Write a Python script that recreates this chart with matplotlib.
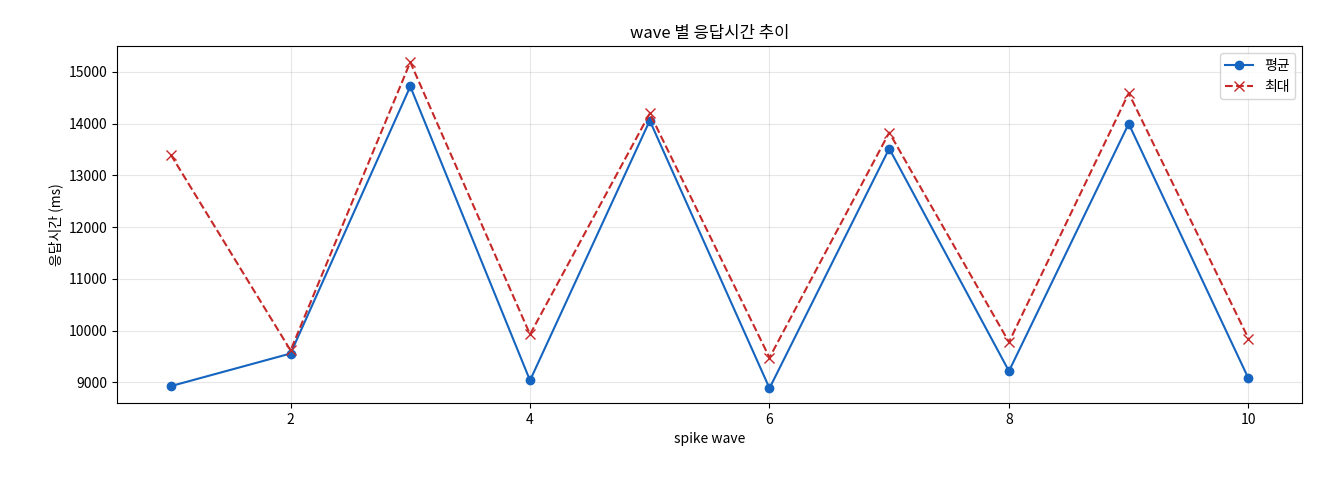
import matplotlib
matplotlib.use("Agg")
import matplotlib.pyplot as plt

plt.rcParams['font.family'] = ['Noto Sans CJK KR', 'DejaVu Sans']

waves = [1, 2, 3, 4, 5, 6, 7, 8, 9, 10]
avg = [8930, 9560, 14720, 9040, 14060, 8890, 13520, 9220, 14000, 9080]
mx = [13400, 9620, 15190, 9930, 14200, 9480, 13830, 9780, 14590, 9850]

fig = plt.figure(figsize=(13.2, 4.8), dpi=100)
ax = fig.add_axes([0.0886, 0.16, 0.898, 0.744])
ax.plot(waves, avg, '-o', color='#1565c0', label='평균', markersize=6)
ax.plot(waves, mx, '--x', color='#c62828', label='최대', markersize=7)
ax.set_title('wave 별 응답시간 추이', fontsize=12)
ax.set_xlabel('spike wave', fontsize=10)
ax.set_ylabel('응답시간 (ms)', fontsize=10)
ax.set_ylim(8600, 15500)
ax.grid(True, alpha=0.3)
ax.legend(loc='upper right', fontsize=10)
fig.savefig('out.png', dpi=100)
